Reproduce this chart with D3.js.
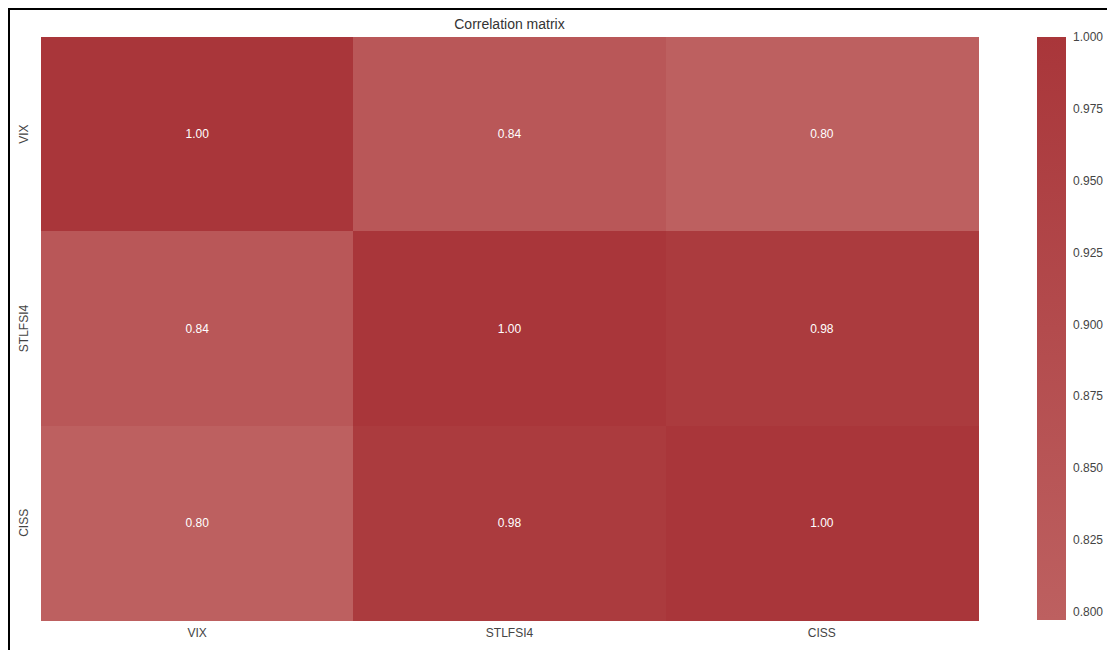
<!DOCTYPE html>
<html>
<head>
<meta charset="utf-8">
<script src="https://cdn.jsdelivr.net/npm/d3@7"></script>
<style>
  html, body { margin: 0; padding: 0; background: #fff; }
  svg { display: block; font-family: "Liberation Sans", Arial, sans-serif; }
</style>
</head>
<body>
<svg id="chart" width="1107" height="650"></svg>
<script>
// Series names and their pairwise correlations
const variables = ["VIX", "STLFSI4", "CISS"];
const corrVIX     = [1.00, 0.842, 0.797];
const corrSTLFSI4 = [0.842, 1.00, 0.978];
const corrCISS    = [0.797, 0.978, 1.00];
const colorbarTicks = [0.800, 0.825, 0.850, 0.875, 0.900, 0.925, 0.950, 0.975, 1.000];

const matrix = [corrVIX, corrSTLFSI4, corrCISS];
const cells = [];
matrix.forEach((row, i) => row.forEach((v, j) => cells.push({ row: variables[i], col: variables[j], value: v })));

const svg = d3.select("#chart");

// Frame around the figure
svg.append("path")
  .attr("d", "M9,650 L9,9 L1107,9")
  .attr("fill", "none").attr("stroke", "#000").attr("stroke-width", 2);

const plot = { left: 41, top: 37, right: 978, bottom: 620 };

const x = d3.scaleBand().domain(variables).range([plot.left, plot.right]);
const y = d3.scaleBand().domain(variables).range([plot.top, plot.bottom]);

const vmin = d3.min(cells, d => d.value), vmax = d3.max(cells, d => d.value);
const color = d3.scaleLinear().domain([vmin, vmax]).range(["#bd6060", "#a9363a"]).interpolate(d3.interpolateRgb);

// Heatmap cells
svg.append("g").attr("shape-rendering", "crispEdges")
  .selectAll("rect").data(cells).join("rect")
  .attr("x", d => x(d.col)).attr("y", d => y(d.row))
  .attr("width", x.bandwidth() + 0.5).attr("height", y.bandwidth() + 0.5)
  .attr("fill", d => color(d.value));

// Annotations
svg.append("g").selectAll("text").data(cells).join("text")
  .attr("x", d => x(d.col) + x.bandwidth() / 2)
  .attr("y", d => y(d.row) + y.bandwidth() / 2)
  .attr("text-anchor", "middle").attr("dominant-baseline", "central")
  .attr("fill", "#fff").attr("font-size", 12)
  .text(d => d3.format(".2f")(d.value));

// Axis labels
const xAxis = svg.append("g").attr("transform", `translate(0,${plot.bottom})`)
  .call(d3.axisBottom(x).tickSize(0).tickPadding(8));
xAxis.select(".domain").remove();
xAxis.selectAll("text").attr("font-size", 12).attr("fill", "#444").attr("font-family", null);

const yAxis = svg.append("g");
variables.forEach(v => {
  yAxis.append("text")
    .attr("transform", `translate(24,${y(v) + y.bandwidth() / 2}) rotate(-90)`)
    .attr("text-anchor", "middle").attr("dominant-baseline", "central")
    .attr("font-size", 12).attr("fill", "#444")
    .text(v);
});

// Title
svg.append("text")
  .attr("x", (plot.left + plot.right) / 2).attr("y", 29)
  .attr("text-anchor", "middle").attr("font-size", 14).attr("fill", "#333")
  .text("Correlation matrix");

// Colorbar
const cb = { x: 1037, width: 29 };
const cbScale = d3.scaleLinear().domain([vmin, vmax]).range([plot.bottom, plot.top]);
const grad = svg.append("defs").append("linearGradient")
  .attr("id", "cbgrad").attr("x1", 0).attr("y1", 1).attr("x2", 0).attr("y2", 0);
grad.append("stop").attr("offset", "0%").attr("stop-color", color(vmin));
grad.append("stop").attr("offset", "100%").attr("stop-color", color(vmax));
svg.append("rect")
  .attr("x", cb.x).attr("y", plot.top)
  .attr("width", cb.width).attr("height", plot.bottom - plot.top)
  .attr("fill", "url(#cbgrad)");

const cbAxis = svg.append("g").attr("transform", `translate(${cb.x + cb.width},0)`)
  .call(d3.axisRight(cbScale).tickValues(colorbarTicks).tickFormat(d3.format(".3f")).tickSize(0).tickPadding(7));
cbAxis.select(".domain").remove();
cbAxis.selectAll("text").attr("font-size", 12).attr("fill", "#444").attr("font-family", null);
</script>
</body>
</html>
